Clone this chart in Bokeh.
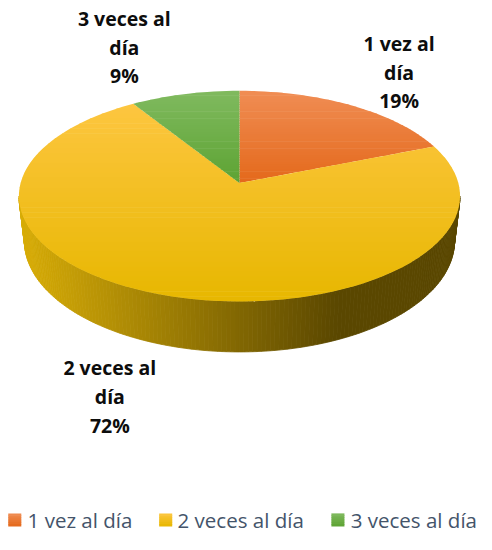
import numpy as np
from bokeh.plotting import figure
from bokeh.models import Range1d
from bokeh.embed import file_html
from bokeh.resources import INLINE
from bokeh.core.properties import value

# ---------------- data ----------------
categories = ["1 vez al día", "2 veces al día", "3 veces al día"]
values = [19, 72, 9]
label_first_lines = ["1 vez al", "2 veces al", "3 veces al"]
label_second_lines = ["día", "día", "día"]

# ---------------- styles / layout ----------------
top_colors = ["#f08d54", "#fdc640", "#80ba5f"]      # gradient start (top)
bottom_colors = ["#e4691b", "#e7b700", "#5da333"]   # gradient end (bottom)
side_left_color = "#d7ac07"
side_right_color = "#5a4700"
label_cx = [412, 113, 128]
label_cy = [74, 408, 48]
line_gap = 29.5
legend_sq_x = [8, 164, 342]
legend_tx = [28, 183, 362]
legend_y = 535

W, H = 476, 534
CX, CY = 247.0, 188.0
R, RZ, K = 226.2, 106.8, 0.1245
DEPTH, SHRINK = 45.5, 0.975


def hex2rgb(h):
    h = h.lstrip("#")
    return np.array([int(h[i:i + 2], 16) for i in (0, 2, 4)], dtype=float)


def mix(c1, c2, f):
    f = min(max(f, 0.0), 1.0)
    c = hex2rgb(c1) * (1 - f) + hex2rgb(c2) * f
    return "#%02x%02x%02x" % tuple(int(round(v)) for v in c)


def top_pt(t):
    w = 1.0 / (1.0 - K * np.sin(t))
    return CX + R * np.cos(t) * w, CY + RZ * np.sin(t) * w


def bot_pt(t):
    w = 1.0 / (1.0 - K * np.sin(t))
    x, y = top_pt(t)
    return CX + (x - CX) * SHRINK, y + DEPTH * w


def clip_half(pts, yv, keep_greater):
    out = []
    n = len(pts)
    for i in range(n):
        a = pts[i]
        b = pts[(i + 1) % n]
        ina = (a[1] >= yv) if keep_greater else (a[1] <= yv)
        inb = (b[1] >= yv) if keep_greater else (b[1] <= yv)
        if ina:
            out.append(a)
        if ina != inb:
            f = (yv - a[1]) / (b[1] - a[1])
            out.append((a[0] + f * (b[0] - a[0]), yv))
    return out


def gradient_bands(xs, ys, c_top, c_bot, nb=40):
    pts = list(zip(xs, ys))
    y0, y1 = min(ys), max(ys)
    bx, by, bc = [], [], []
    edges = np.linspace(y0, y1, nb + 1)
    for i in range(nb):
        a, b = edges[i], edges[i + 1]
        q = clip_half(pts, a - 0.3, True)
        if len(q) < 3:
            continue
        q = clip_half(q, b + 0.3, False)
        if len(q) < 3:
            continue
        bx.append([u[0] for u in q])
        by.append([u[1] for u in q])
        bc.append(mix(c_top, c_bot, (i + 0.5) / nb))
    return bx, by, bc


p = figure(width=W, height=H, output_backend="svg", toolbar_location=None,
           x_range=Range1d(0, 492), y_range=Range1d(550, 0),
           x_axis_location=None, y_axis_location=None, min_border=0)
p.grid.visible = False
p.outline_line_color = None
p.background_fill_color = None
p.border_fill_color = None

# ---------------- side wall ----------------
t_r = np.arcsin(K)
t_l = np.pi - t_r
ts = np.linspace(t_r, t_l, 161)
sx, sy, sc = [], [], []
for i in range(len(ts) - 1):
    a, b = ts[i], ts[i + 1]
    xa, ya = top_pt(a)
    xb, yb = top_pt(b)
    xb2, yb2 = bot_pt(b)
    xa2, ya2 = bot_pt(a)
    sx.append([xa, xb, xb2, xa2])
    sy.append([ya, yb, yb2, ya2])
    xm = (xa + xb) / 2
    sc.append(mix(side_left_color, side_right_color, (xm - 22) / (350 - 22)))
p.patches(sx, sy, fill_color=sc, line_color=sc, line_width=0.8)

# ---------------- top slices ----------------
total = float(sum(values))
start = -np.pi / 2
for i, v in enumerate(values):
    end = start + 2 * np.pi * v / total
    arc = np.linspace(start, end, max(int(200 * v / total), 8))
    ax, ay = top_pt(arc)
    xs = [CX] + list(ax)
    ys = [CY] + list(ay)
    bx, by, bc = gradient_bands(xs, ys, top_colors[i], bottom_colors[i])
    p.patches(bx, by, fill_color=bc, line_color=None)
    start = end

# ---------------- data labels ----------------
font = value("Open Sans")
for i, v in enumerate(values):
    pct = "%d%%" % round(100 * v / total)
    lines = [label_first_lines[i], label_second_lines[i], pct]
    ys = [label_cy[i] - line_gap, label_cy[i], label_cy[i] + line_gap]
    p.text(x=[label_cx[i]] * 3, y=ys, text=lines, text_font=font,
           text_font_style="bold", text_font_size="19.5px", text_color="#0d0d0d",
           text_align="center", text_baseline="middle")

# ---------------- legend ----------------
sq = 13.5
for i, c in enumerate(categories):
    x0 = legend_sq_x[i]
    y0 = legend_y - sq / 2
    bx, by, bc = gradient_bands([x0, x0 + sq, x0 + sq, x0],
                                [y0, y0, y0 + sq, y0 + sq],
                                top_colors[i], bottom_colors[i], nb=6)
    p.patches(bx, by, fill_color=bc, line_color=None)
    p.text(x=[legend_tx[i]], y=[legend_y], text=[c], text_font=font,
           text_font_size="20.5px", text_color="#44546a",
           text_align="left", text_baseline="middle")

open("out.html", "w").write(file_html(p, INLINE))
